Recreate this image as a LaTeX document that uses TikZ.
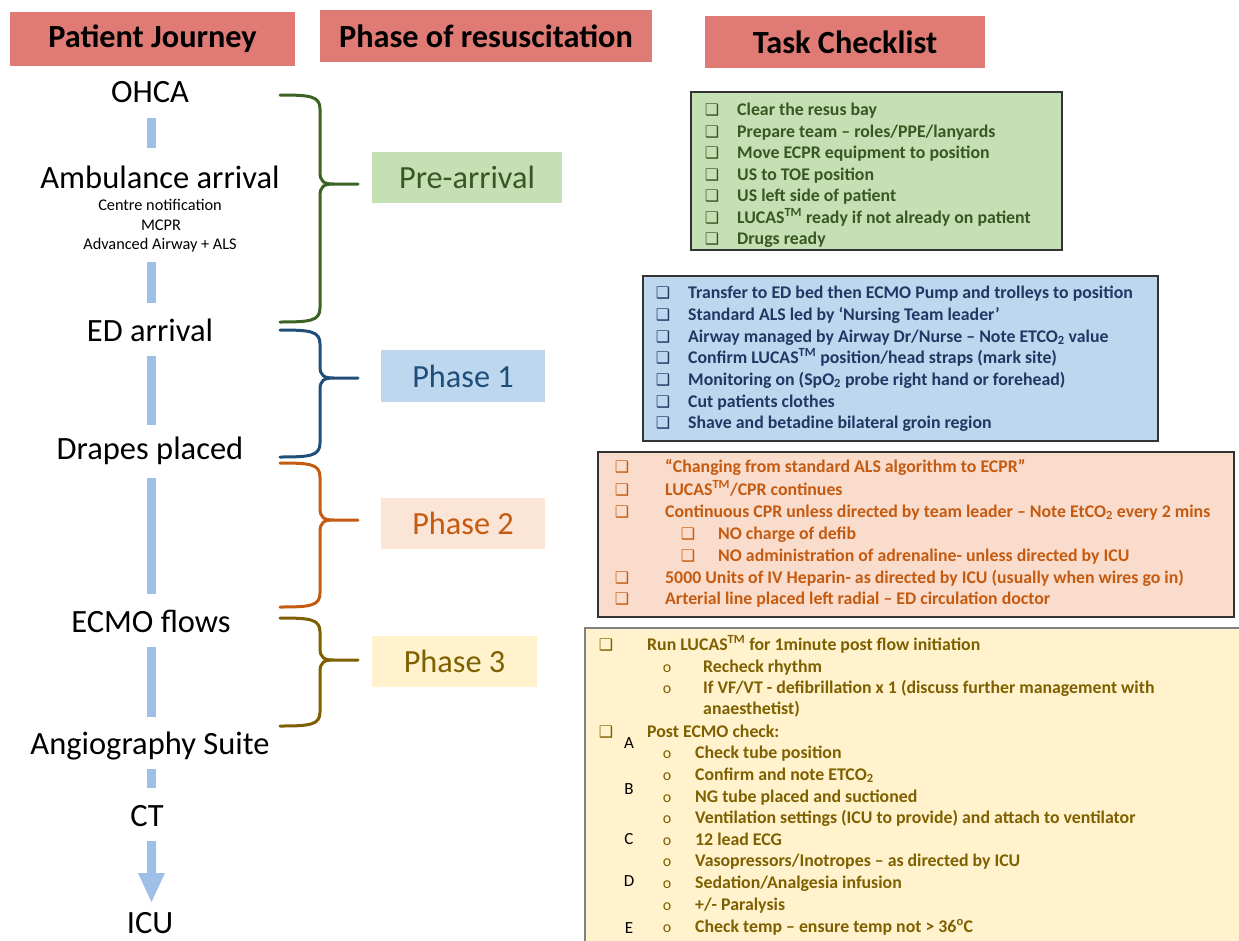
\documentclass[tikz,border=0pt]{standalone}
\usepackage{fontspec}
\setmainfont{Carlito}
\newfontfamily\dejavu{DejaVu Sans}
\definecolor{hdrred}{HTML}{E07A74}
\definecolor{barblue}{HTML}{9FC0E6}
\definecolor{gfill}{HTML}{C5E0B4}
\definecolor{gtext}{HTML}{385723}
\definecolor{gbrace}{HTML}{3B6323}
\definecolor{bfill}{HTML}{BDD7EE}
\definecolor{btext}{HTML}{1F3864}
\definecolor{bbrace}{HTML}{1F4E79}
\definecolor{pfill}{HTML}{FBE5D6}
\definecolor{pfillbox}{HTML}{F9DCCB}
\definecolor{ptext}{HTML}{C55A11}
\definecolor{yfill}{HTML}{FFF2CC}
\definecolor{ytext}{HTML}{7F6000}
\newcommand{\cb}{{\dejavu\fontsize{16}{16}\selectfont ❑}}
\newcommand{\li}[6]{%
  \node[#2, anchor=base] (#1b) at (#3,#5) {\cb};
  \node[#2, anchor=base west] (#1) at (#4,#5) {#6};}
\newcommand{\lo}[6]{%
  \node[#2, anchor=base, font=\fontsize{16}{16}\selectfont] (#1b) at (#3,#5) {o};
  \node[#2, anchor=base west] (#1) at (#4,#5) {#6};}
\newcommand{\phbrace}[4]{%
  \draw[#1, line width=3pt, line join=round, line cap=round]
    (280,#2) .. controls (310,#2) and (320,#2+1) .. (320,#2+14)
    -- (320,#3-12) .. controls (320,#3-2) and (324,#3) .. (334,#3) -- (358,#3)
    (334,#3) .. controls (324,#3) and (320,#3+2) .. (320,#3+12)
    -- (320,#4-14) .. controls (320,#4-1) and (310,#4) .. (280,#4);}
\newcommand{\tm}{\textsuperscript{TM}}
\begin{document}
\begin{tikzpicture}[x=1pt,y=-1pt,
  hdr/.style={fill=hdrred, inner sep=0, font=\fontsize{32.3}{34}\selectfont\bfseries},
  jour/.style={anchor=base, inner sep=0, font=\fontsize{32.5}{34}\selectfont},
  jsub/.style={anchor=base, inner sep=0, font=\fontsize{16.3}{18}\selectfont},
  phase/.style={inner sep=0, font=\fontsize{32.3}{34}\selectfont},
  bar/.style={fill=barblue, draw=none},
  itg/.style={inner sep=0, text=gtext, font=\fontsize{17.8}{20}\selectfont\bfseries},
  itb/.style={inner sep=0, text=btext, font=\fontsize{17.8}{20}\selectfont\bfseries},
  itp/.style={inner sep=0, text=ptext, font=\fontsize{17.8}{20}\selectfont\bfseries},
  ity/.style={inner sep=0, text=ytext, font=\fontsize{17.8}{20}\selectfont\bfseries},
  lett/.style={inner sep=0, anchor=base, font=\fontsize{17}{18}\selectfont}
]
\useasboundingbox (0,0) rectangle (1239,940);
\clip (0,0) rectangle (1239,940);
\fill[white] (0,0) rectangle (1239,940);

% headers
\node[hdr, minimum width=285, minimum height=54] (h1) at (152.5,39) {Patient Journey};
\node[hdr, minimum width=332, minimum height=52] (h2) at (486,36) {Phase of resuscitation};
\node[hdr, minimum width=280, minimum height=52] (h3) at (845,42) {Task Checklist};

% patient journey
\node[jour] (j1) at (150,102) {OHCA};
\node[jour] (j2) at (160,188) {Ambulance arrival};
\node[jsub] (j2a) at (160,210) {Centre notification};
\node[jsub] (j2b) at (161,230) {MCPR};
\node[jsub] (j2c) at (160,249) {Advanced Airway + ALS};
\node[jour] (j3) at (150,341) {ED arrival};
\node[jour] (j4) at (150,459) {Drapes placed};
\node[jour] (j5) at (151,632) {ECMO flows};
\node[jour] (j6) at (150,754) {Angiography Suite};
\node[jour] (j7) at (147,826) {CT};
\node[jour] (j8) at (150,933) {ICU};

\fill[bar] (147,118) rectangle (156,148);
\fill[bar] (147,262) rectangle (156,303);
\fill[bar] (147,356) rectangle (156,425);
\fill[bar] (147,478) rectangle (156,594);
\fill[bar] (147,647) rectangle (156,717);
\fill[bar] (147,769) rectangle (156,788);
\fill[bar] (147,841) -- (156,841) -- (156,873) -- (165,873) -- (151.5,902) -- (138,873) -- (147,873) -- cycle;

% braces
\phbrace{gbrace}{95}{184}{322}
\phbrace{bbrace}{330}{378}{457}
\phbrace{ptext}{463}{520}{607}
\phbrace{ytext}{618}{660}{726}

% phase boxes
\node[phase, fill=gfill, text=gtext, minimum width=190, minimum height=51] (p0) at (467,177.5) {Pre-arrival};
\node[phase, fill=bfill, text=bbrace, minimum width=164, minimum height=52] (p1) at (463,376) {Phase 1};
\node[phase, fill=pfill, text=ptext, minimum width=164, minimum height=51] (p2) at (463,523.5) {Phase 2};
\node[phase, fill=yfill, text=ytext, minimum width=165, minimum height=51] (p3) at (454.5,661.5) {Phase 3};

% checklist boxes
\node[draw=black!80, line width=1.2pt, fill=gfill, minimum width=371, minimum height=158, inner sep=0] (gbox) at (876.5,171) {};
\node[draw=black!80, line width=1.2pt, fill=bfill, minimum width=515, minimum height=165, inner sep=0] (bbox) at (900.5,358.5) {};
\node[draw=black!80, line width=1.2pt, fill=pfillbox, minimum width=636, minimum height=165, inner sep=0] (pbox) at (916,534.5) {};
\node[draw=black!50, line width=1.2pt, fill=yfill, minimum width=665, minimum height=322, inner sep=0] (ybox) at (917.5,789) {};

% green list
\li{g1}{itg}{712}{737}{115}{Clear the resus bay}
\li{g2}{itg}{712}{737}{137}{Prepare team – roles/PPE/lanyards}
\li{g3}{itg}{712}{737}{158}{Move ECPR equipment to position}
\li{g4}{itg}{712}{737}{180}{US to TOE position}
\li{g5}{itg}{712}{737}{201}{US left side of patient}
\li{g6}{itg}{712}{737}{223}{LUCAS\tm{} ready if not already on patient}
\li{g7}{itg}{712}{737}{244}{Drugs ready}

% blue list
\li{b1}{itb}{663}{688}{298}{Transfer to ED bed then ECMO Pump and trolleys to position}
\li{b2}{itb}{663}{688}{320}{Standard ALS led by ‘Nursing Team leader’}
\li{b3}{itb}{663}{688}{342}{Airway managed by Airway Dr/Nurse – Note ETCO\textsubscript{2} value}
\li{b4}{itb}{663}{688}{363}{Confirm LUCAS\tm{} position/head straps (mark site)}
\li{b5}{itb}{663}{688}{385}{Monitoring on (SpO\textsubscript{2} probe right hand or forehead)}
\li{b6}{itb}{663}{688}{407}{Cut patients clothes}
\li{b7}{itb}{663}{688}{428}{Shave and betadine bilateral groin region}

% peach list
\li{q1}{itp}{622}{665}{472}{“Changing from standard ALS algorithm to ECPR”}
\li{q2}{itp}{622}{665}{495}{LUCAS\tm/CPR continues}
\li{q3}{itp}{622}{665}{517}{Continuous CPR unless directed by team leader – Note EtCO\textsubscript{2} every 2 mins}
\li{q4}{itp}{688}{718}{539}{NO charge of defib}
\li{q5}{itp}{688}{718}{561}{NO administration of adrenaline- unless directed by ICU}
\li{q6}{itp}{622}{665}{583}{5000 Units of IV Heparin- as directed by ICU (usually when wires go in)}
\li{q7}{itp}{622}{665}{604}{Arterial line placed left radial – ED circulation doctor}

% yellow list
\li{y1}{ity}{606}{647}{650}{Run LUCAS\tm{} for 1minute post flow initiation}
\lo{y2}{ity}{667}{703}{672}{Recheck rhythm}
\lo{y3}{ity}{667}{703}{693}{If VF/VT - defibrillation x 1 (discuss further management with}
\node[ity, anchor=base west] (y3b) at (703,714) {anaesthetist)};
\li{y4}{ity}{606}{647}{737}{Post ECMO check:}
\lo{y5}{ity}{667}{695}{758}{Check tube position}
\lo{y6}{ity}{667}{695}{780}{Confirm and note ETCO\textsubscript{2}}
\lo{y7}{ity}{667}{695}{802}{NG tube placed and suctioned}
\lo{y8}{ity}{667}{695}{823}{Ventilation settings (ICU to provide) and attach to ventilator}
\lo{y9}{ity}{667}{695}{845}{12 lead ECG}
\lo{y10}{ity}{667}{695}{866}{Vasopressors/Inotropes – as directed by ICU}
\lo{y11}{ity}{667}{695}{888}{Sedation/Analgesia infusion}
\lo{y12}{ity}{667}{695}{910}{+/- Paralysis}
\lo{y13}{ity}{667}{695}{932}{Check temp – ensure temp not > 36\textsuperscript{o}C}
\node[lett] (la) at (629,748) {A};
\node[lett] (lb) at (629,794) {B};
\node[lett] (lc) at (629,844) {C};
\node[lett] (ld) at (629,886) {D};
\node[lett] (le) at (629,933) {E};
\end{tikzpicture}
\end{document}
